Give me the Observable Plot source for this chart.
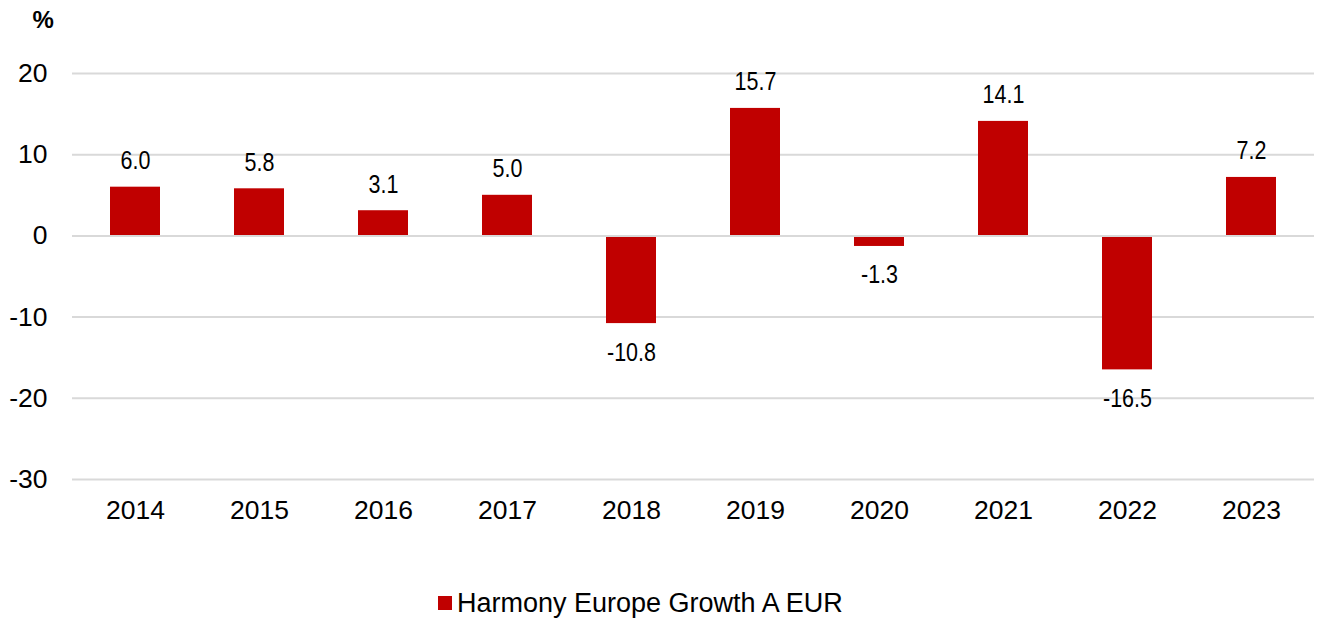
<!DOCTYPE html>
<html>
<head>
<meta charset="utf-8">
<script src="https://cdn.jsdelivr.net/npm/d3@7"></script>
<script src="https://cdn.jsdelivr.net/npm/@observablehq/plot@0.6"></script>
<style>
  html, body { margin: 0; padding: 0; background: #fff; }
  #wrap { position: relative; width: 1322px; height: 618px; font-family: "Liberation Sans", Arial, sans-serif; }
  #legend { position: absolute; left: 438px; top: 587px; height: 32px; display: flex; align-items: center; font-size: 27px; line-height: 32px; color: #000; white-space: nowrap; }
  #legend .sw { width: 14px; height: 14px; background: #c00000; margin-right: 5px; }
</style>
</head>
<body>
<div id="wrap">
  <div id="chart"></div>
  <div id="legend"><span class="sw"></span><span>Harmony Europe Growth A EUR</span></div>
</div>
<script>
const years = ["2014","2015","2016","2017","2018","2019","2020","2021","2022","2023"];
const values = [6.0, 5.8, 3.1, 5.0, -10.8, 15.7, -1.3, 14.1, -16.5, 7.2];
const yTicks = [20, 10, 0, -10, -20, -30];
const seriesName = "Harmony Europe Growth A EUR";
const unitLabel = "%";

const data = years.map((y, i) => ({year: y, value: values[i]}));
const pos = data.filter(d => d.value >= 0);
const neg = data.filter(d => d.value < 0);

const chart = Plot.plot({
  width: 1322,
  height: 560,
  marginLeft: 72,
  marginRight: 8,
  marginTop: 73,
  marginBottom: 81,
  style: { fontFamily: "'Liberation Sans', Arial, sans-serif", fontSize: "26px", color: "#000", background: "#fff" },
  x: { domain: years, paddingInner: 0.6, paddingOuter: 0.3, label: null },
  y: { domain: [-30, 20], ticks: yTicks, label: null },
  marks: [
    Plot.ruleY(yTicks, { stroke: "#d9d9d9", strokeWidth: 2 }),
    Plot.ruleX([0], { frameAnchor: "left", stroke: "#d9d9d9", strokeWidth: 2, y1: -30, y2: 20 }),
    Plot.barY(data, { x: "year", y: "value", fill: "#c00000" }),
    Plot.ruleY([0], { stroke: "#d9d9d9", strokeWidth: 2 }),
    Plot.axisY({ ticks: yTicks, tickSize: 0, tickPadding: 25, fontSize: 26.5, label: null, tickFormat: d => String(d) }),
    Plot.axisX({ tickSize: 0, tickPadding: 21, fontSize: 26.5, label: null }),
    Plot.text(pos, { x: "year", y: "value", text: d => d.value.toFixed(1), dy: -26, fontSize: 25, fill: "#000", className: "vlabel" }),
    Plot.text(neg, { x: "year", y: "value", text: d => d.value.toFixed(1), dy: 29, fontSize: 25, fill: "#000", className: "vlabel" }),
    Plot.text([unitLabel], { frameAnchor: "top-left", dx: -40, dy: -63, fontSize: 24, fontWeight: "bold", fill: "#000" })
  ]
});
d3.select(chart).selectAll(".vlabel text").attr("transform", function() {
  return (this.getAttribute("transform") || "") + " scale(0.86,1)";
});
document.getElementById("chart").appendChild(chart);
</script>
</body>
</html>
